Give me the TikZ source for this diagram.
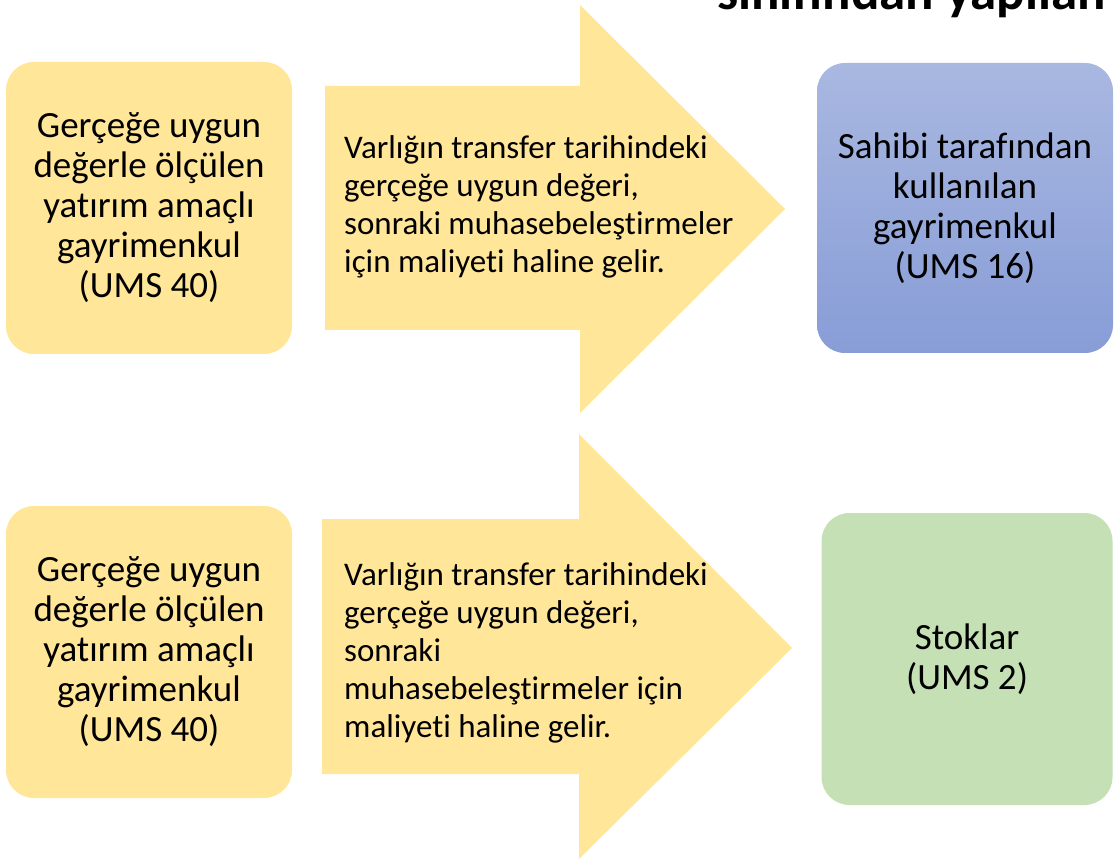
\documentclass[tikz,border=0pt]{standalone}
\usepackage{fontspec}
\setmainfont{Carlito}[Ligatures=NoCommon]
\definecolor{sandy}{HTML}{FFE699}
\definecolor{bluetop}{HTML}{A9B8E1}
\definecolor{bluebot}{HTML}{889DD7}
\definecolor{sage}{HTML}{C5E0B4}
\tikzset{
    stepbox/.style={rounded corners=28pt, minimum width=286pt, minimum height=292pt, align=center, inner sep=0pt, font=\fontsize{37}{40}\selectfont},
    blockarrow/.style={fill=sandy, draw=none},
    arrowtext/.style={anchor=west, align=left, inner sep=0pt, font=\fontsize{33}{38}\selectfont}
}
\begin{document}
\begin{tikzpicture}[x=1pt, y=1pt]
    \useasboundingbox (0,0) rectangle (1115,860);
    \clip (0,0) rectangle (1115,860);

    % Title (cut off at the top)
    \node[anchor=base west, inner sep=0pt, font=\bfseries\fontsize{53}{53}\selectfont] (title) at (717,850) {sınıfından yapılan};

    % Upper row
    \node[stepbox, fill=sandy] (src1) at (149,652) {Gerçeğe uygun\\değerle ölçülen\\yatırım amaçlı\\gayrimenkul\\(UMS 40)};
    \draw[blockarrow] (325,774) -- (580,774) -- (580,855) -- (785,651) -- (580,447) -- (580,530) -- (325,530) -- cycle;
    \node[arrowtext] (txt1) at (344,653) {Varlığın transfer tarihindeki\\gerçeğe uygun değeri,\\sonraki muhasebeleştirmeler\\için maliyeti haline gelir.};
    \node[stepbox, minimum width=296pt, minimum height=290pt, top color=bluetop, bottom color=bluebot] (dst1) at (965,652) {Sahibi tarafından\\kullanılan\\gayrimenkul\\(UMS 16)};

    % Lower row
    \node[stepbox, fill=sandy] (src2) at (149,208) {Gerçeğe uygun\\değerle ölçülen\\yatırım amaçlı\\gayrimenkul\\(UMS 40)};
    \draw[blockarrow] (322,341) -- (579,341) -- (579,426) -- (792,212) -- (579,1) -- (579,86) -- (322,86) -- cycle;
    \node[arrowtext] (txt2) at (344,207) {Varlığın transfer tarihindeki\\gerçeğe uygun değeri,\\sonraki\\muhasebeleştirmeler için\\maliyeti haline gelir.};
    \node[stepbox, minimum width=291pt, fill=sage] (dst2) at (967,201) {Stoklar\\(UMS 2)};
\end{tikzpicture}
\end{document}
